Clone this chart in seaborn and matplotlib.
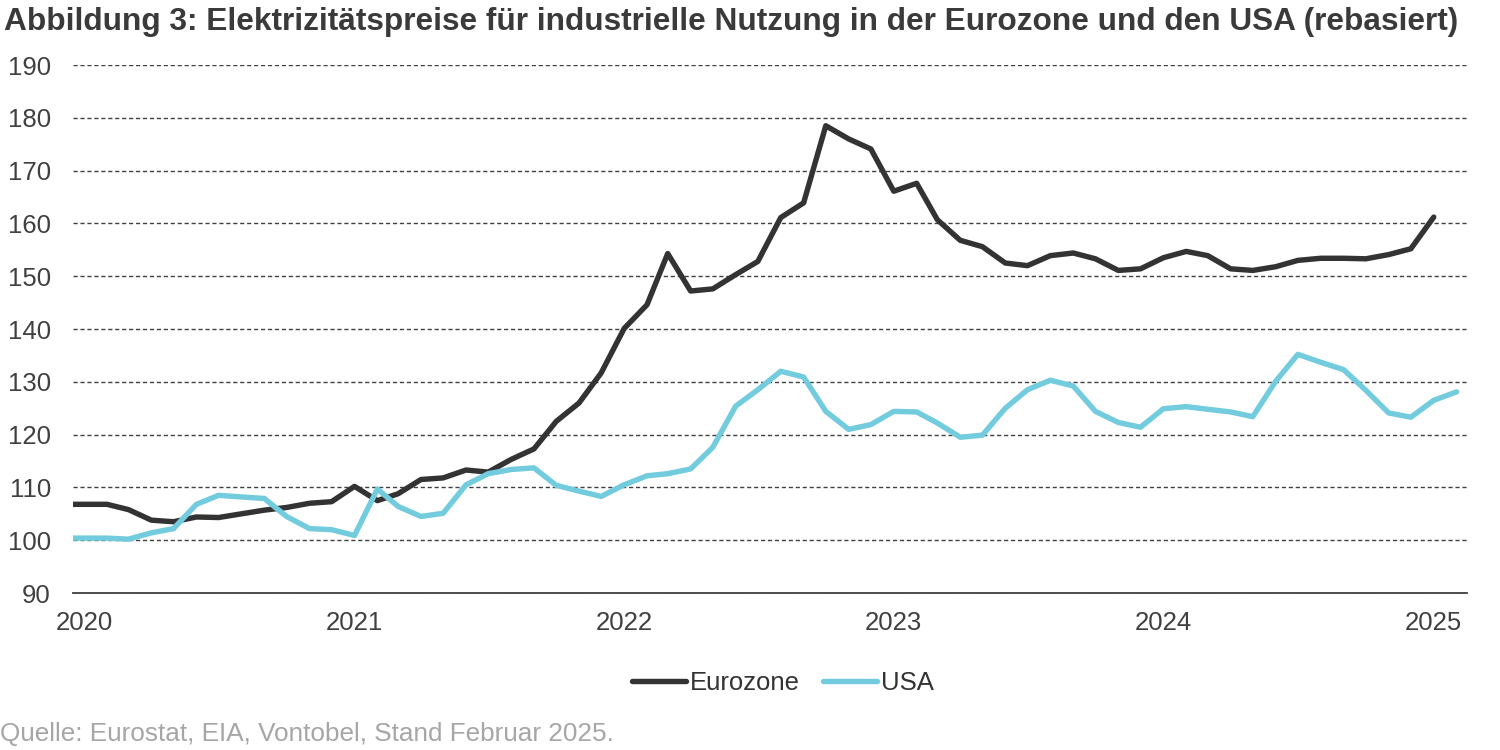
import numpy as np
import pandas as pd
import matplotlib.pyplot as plt
import seaborn as sns

# Monatswerte, rebasiert (Dez 2019 bis Feb 2025)
months = pd.date_range("2019-12-01", "2025-02-01", freq="MS")

eurozone = [
    106.8,
    106.8, 106.8, 105.8, 103.8, 103.5, 104.4, 104.3, 105.0, 105.7, 106.2, 107.0, 107.3,
    110.2, 107.5, 108.8, 111.5, 111.8, 113.3, 112.9, 115.3, 117.3, 122.5, 126.0, 131.7,
    140.1, 144.6, 154.3, 147.2, 147.6, 150.3, 152.8, 161.1, 163.9, 178.5, 176.0, 174.1,
    166.1, 167.6, 160.7, 156.8, 155.6, 152.5, 152.0, 153.9, 154.4, 153.3, 151.1, 151.4,
    153.5, 154.7, 153.9, 151.4, 151.1, 151.8, 153.0, 153.4, 153.4, 153.3, 154.1, 155.2,
    161.2, np.nan,
]
usa = [
    100.4,
    100.4, 100.4, 100.2, 101.4, 102.2, 106.8, 108.5, 108.2, 107.9, 104.5, 102.2, 102.0,
    100.9, 109.7, 106.4, 104.5, 105.1, 110.5, 112.6, 113.4, 113.7, 110.4, 109.3, 108.3,
    110.5, 112.2, 112.6, 113.5, 117.6, 125.4, 128.5, 132.0, 130.9, 124.4, 121.0, 121.9,
    124.4, 124.3, 122.2, 119.5, 119.9, 125.0, 128.5, 130.3, 129.2, 124.4, 122.3, 121.4,
    124.9, 125.3, 124.8, 124.3, 123.4, 130.1, 135.2, 133.7, 132.3, 128.4, 124.1, 123.3,
    126.5, 128.1,
]
years = [2020, 2021, 2022, 2023, 2024, 2025]

df = pd.DataFrame({"Datum": months, "Eurozone": eurozone, "USA": usa})
long_df = df.melt(id_vars="Datum", var_name="Region", value_name="Index").dropna()

sns.set_style("white")
plt.rcParams["font.family"] = ["Liberation Sans", "DejaVu Sans"]

fig, ax = plt.subplots(figsize=(15, 7.5), dpi=100)
fig.subplots_adjust(left=0.0487, right=0.978, top=0.9133, bottom=0.2093)

sns.lineplot(
    data=long_df,
    x="Datum",
    y="Index",
    hue="Region",
    palette={"Eurozone": "#333333", "USA": "#72CCDE"},
    linewidth=3.9,
    ax=ax,
    legend=True,
)

ax.set_ylim(90, 190)
ax.set_yticks(range(90, 191, 10))
ax.set_xlim(pd.Timestamp("2019-12-17"), pd.Timestamp("2025-02-15"))
ax.set_xticks([pd.Timestamp(f"{y}-01-01") for y in years])
ax.set_xticklabels([str(y) for y in years])

ax.yaxis.grid(True, linestyle=(0, (3, 2)), color="#404040", linewidth=1.0)
ax.xaxis.grid(False)
ax.set_axisbelow(True)
for side in ["top", "right", "left"]:
    ax.spines[side].set_visible(False)
ax.spines["bottom"].set_color("#404040")
ax.spines["bottom"].set_linewidth(1.3)

ax.tick_params(axis="both", length=0, labelsize=18.5, colors="#404040")
ax.tick_params(axis="y", pad=16)
ax.tick_params(axis="x", pad=13)
ax.set_xlabel("")
ax.set_ylabel("")

handles, labels = ax.get_legend_handles_labels()
ax.get_legend().remove()
fig.legend(
    handles, labels,
    loc="center", bbox_to_anchor=(0.522, 0.089), ncol=2, frameon=False,
    fontsize=18.5, handlelength=2.1, handletextpad=0.15, columnspacing=0.9,
    labelcolor="#333333",
)

fig.text(0.003, 0.971, "Abbildung 3: Elektrizitätspreise für industrielle Nutzung in der Eurozone und den USA (rebasiert)",
         fontsize=22.8, fontweight="bold", color="#3a3a3a", ha="left", va="center")
fig.text(0.0, 0.021, "Quelle: Eurostat, EIA, Vontobel, Stand Februar 2025.",
         fontsize=18.8, color="#a6a6a6", ha="left", va="center")

fig.savefig("out.png", dpi=100)
